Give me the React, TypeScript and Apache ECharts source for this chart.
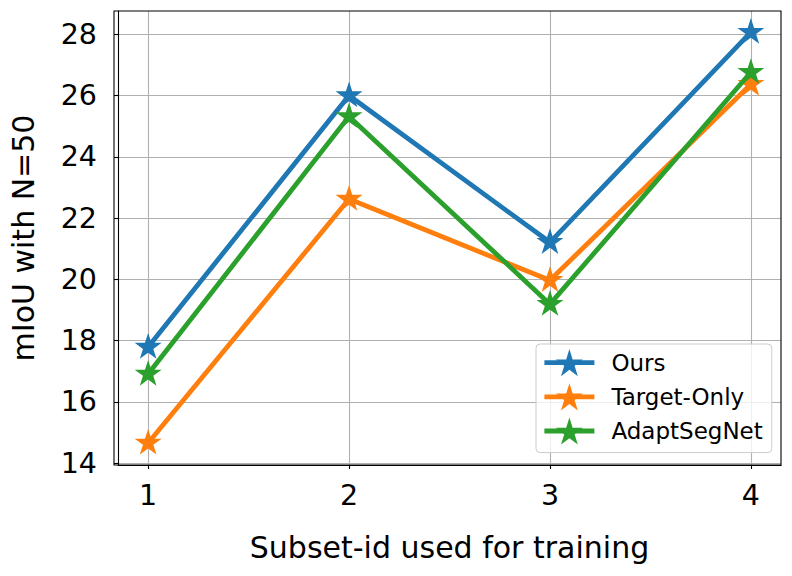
import React, { useEffect, useRef } from "react";
import * as echarts from "echarts";

const subsets = [1, 2, 3, 4];
const oursValues = [17.79, 26.0, 21.21, 28.07];
const targetOnlyValues = [14.66, 22.62, 19.97, 26.37];
const adaptSegNetValues = [16.91, 25.32, 19.19, 26.76];
const yTicks = [14, 16, 18, 20, 22, 24, 26, 28];
const seriesNames = ["Ours", "Target-Only", "AdaptSegNet"];
const colors = ["#1f77b4", "#ff7f0e", "#2ca02c"];

const STAR =
  "path://M0 -100 L22.45 -30.9 L95.1 -30.9 L36.33 11.8 L58.78 80.9 L0 38.2 L-58.78 80.9 L-36.33 11.8 L-95.1 -30.9 L-22.45 -30.9 Z";

const FONT = "DejaVu Sans";

export default function App() {
  const ref = useRef<HTMLDivElement>(null);
  useEffect(() => {
    if (!ref.current) return;
    const chart = echarts.init(ref.current, undefined, { renderer: "svg" });
    const all = [oursValues, targetOnlyValues, adaptSegNetValues];
    const series = all.map((vals, i) => ({
      name: seriesNames[i],
      type: "line",
      data: subsets.map((x, j) => [x, vals[j]]),
      symbol: STAR,
      symbolSize: [27, 25.7],
      symbolOffset: [0, -1.2],
      showSymbol: true,
      itemStyle: { color: colors[i] },
      lineStyle: { color: colors[i], width: 4.8 },
      z: 2 + i,
    }));
    chart.setOption({
      animation: false,
      backgroundColor: "#ffffff",
      textStyle: { fontFamily: FONT },
      grid: { left: 114, top: 11, right: 11, bottom: 111, containLabel: false },
      legend: {
        data: seriesNames,
        orient: "vertical",
        left: 536,
        top: 344,
        itemWidth: 50,
        itemHeight: 34,
        itemGap: 7,
        padding: [5, 9, 8, 6],
        backgroundColor: "rgba(255,255,255,0.8)",
        borderColor: "#cccccc",
        borderWidth: 1,
        borderRadius: 4,
        lineStyle: { width: 4.8 },
        textStyle: {
          fontFamily: FONT,
          fontSize: 23,
          color: "#000000",
          padding: [0, 0, 0, 12],
        },
      },
      xAxis: {
        type: "value",
        min: 0.85,
        max: 4.15,
        name: "Subset-id used for training",
        nameLocation: "middle",
        nameGap: 67,
        nameTextStyle: { fontFamily: FONT, fontSize: 30, color: "#000000" },
        axisLine: { show: true, onZero: false, lineStyle: { color: "#000000", width: 1.1 } },
        axisTick: {
          show: true,
          length: 4,
          lineStyle: { color: "#000000", width: 1.1 },
          customValues: subsets,
        },
        axisLabel: {
          fontFamily: FONT,
          fontSize: 28.5,
          color: "#000000",
          margin: 16,
          customValues: subsets,
          formatter: (v: number) => String(v),
        },
        splitLine: { show: true, lineStyle: { color: "#b0b0b0", width: 1.1 } },
      },
      yAxis: {
        type: "value",
        min: 13.94,
        max: 28.76,
        name: "mIoU with N=50",
        nameLocation: "middle",
        nameGap: 80,
        nameTextStyle: { fontFamily: FONT, fontSize: 30, color: "#000000" },
        axisLine: { show: true, onZero: false, lineStyle: { color: "#000000", width: 1.1 } },
        axisTick: {
          show: true,
          length: 4,
          lineStyle: { color: "#000000", width: 1.1 },
          customValues: yTicks,
        },
        axisLabel: {
          fontFamily: FONT,
          fontSize: 28.5,
          color: "#000000",
          margin: 21,
          customValues: yTicks,
          formatter: (v: number) => String(v),
        },
        splitLine: { show: true, lineStyle: { color: "#b0b0b0", width: 1.1 } },
      },
      graphic: [
        {
          type: "rect",
          shape: { x: 114, y: 11, width: 667, height: 454 },
          style: { fill: "none", stroke: "#000000", lineWidth: 1.1 },
          z: 1,
          silent: true,
        },
      ],
      series,
    });
    return () => chart.dispose();
  }, []);
  return <div ref={ref} style={{ width: 792, height: 576, margin: -8 }} />;
}
